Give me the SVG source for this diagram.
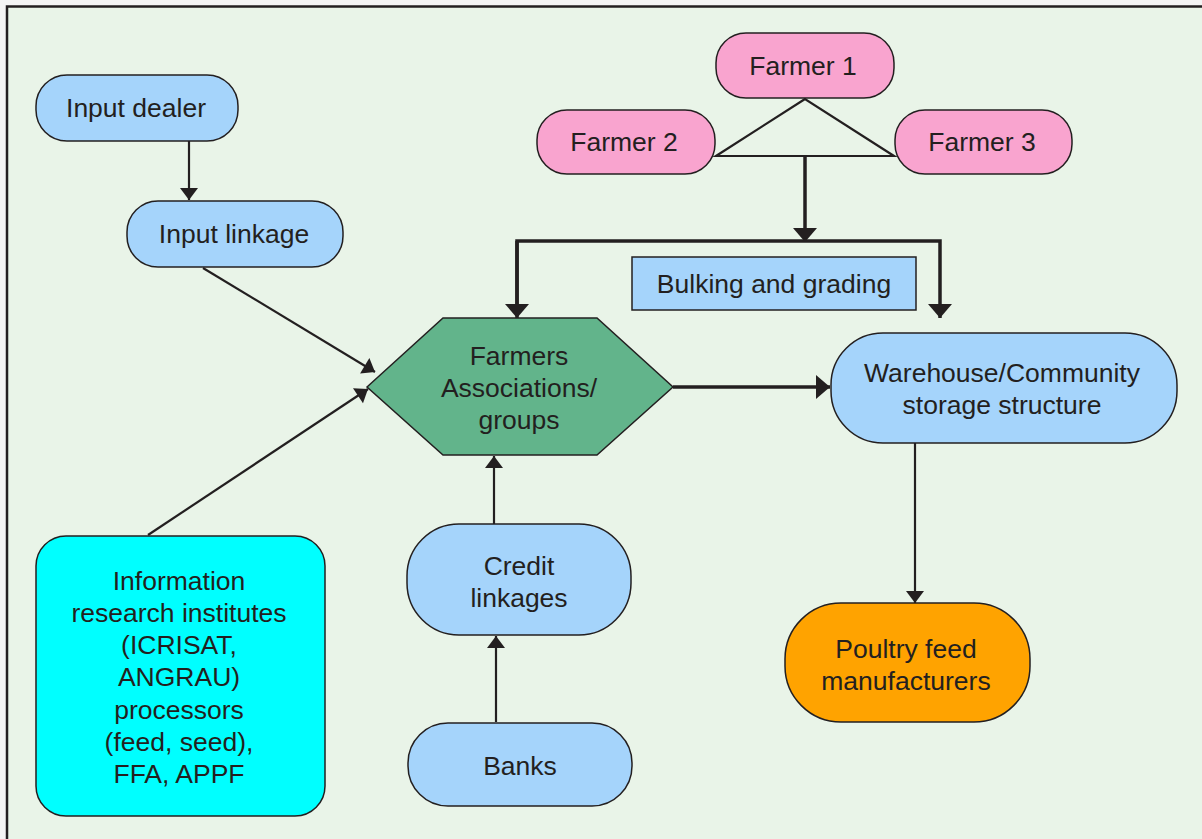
<svg xmlns="http://www.w3.org/2000/svg" width="1202" height="839" viewBox="0 0 1202 839">
<defs>
<marker id="ah" markerUnits="userSpaceOnUse" markerWidth="24" markerHeight="24" viewBox="0 0 24 24" refX="13" refY="12" orient="auto">
<path d="M1,3 L13,12 L1,21 Z" fill="#231f20"/>
</marker>
<marker id="ahb" markerUnits="userSpaceOnUse" markerWidth="28" markerHeight="28" viewBox="0 0 28 28" refX="15" refY="14" orient="auto">
<path d="M1,2 L15,14 L1,26 Z" fill="#231f20"/>
</marker>
<style>
.t{font-family:"Liberation Sans",Arial,sans-serif;font-size:26.5px;fill:#231f20;text-anchor:middle;dominant-baseline:central}
.n{stroke:#231f20;stroke-width:1.5}
.blue{fill:#a5d4fb}
.pink{fill:#f9a4cf}
.c{fill:none;stroke:#231f20;stroke-width:2.2}
.cb{fill:none;stroke:#231f20;stroke-width:3.5}
</style>
</defs>
<rect x="0" y="0" width="1202" height="839" fill="#f4f4f4"/>
<rect x="7" y="6.5" width="1210" height="850" fill="#e9f4e8" stroke="#231f20" stroke-width="2.5"/>

<g id="connectors">
<line class="c" x1="189" y1="141" x2="189" y2="200" marker-end="url(#ah)"/>
<line class="c" x1="203" y1="268" x2="375" y2="372" marker-end="url(#ah)"/>
<line class="c" x1="148" y1="535" x2="368" y2="389" marker-end="url(#ah)"/>
<line class="c" x1="494" y1="524" x2="494" y2="456" marker-end="url(#ah)"/>
<line class="c" x1="496" y1="722" x2="496" y2="636" marker-end="url(#ah)"/>
<line class="c" x1="915" y1="443" x2="915" y2="603" marker-end="url(#ah)"/>
<path class="c" d="M805,99 L716,156 L894,156 Z"/>
<line class="cb" x1="805" y1="156" x2="805" y2="242" marker-end="url(#ahb)"/>
<path class="cb" d="M517,316 L517,241 L940,241 L940,318" marker-end="url(#ahb)"/>
<path class="cb" d="M517,241 L517,318" marker-end="url(#ahb)"/>
<line class="cb" x1="673" y1="387" x2="830" y2="387" marker-end="url(#ahb)"/>
</g>

<g id="input-dealer">
<rect class="n blue" x="36" y="75" width="202" height="66" rx="31"/>
<text class="t" x="136" y="108">Input dealer</text>
</g>
<g id="input-linkage">
<rect class="n blue" x="127" y="201" width="216" height="66" rx="31"/>
<text class="t" x="234" y="234">Input linkage</text>
</g>
<g id="farmer1">
<rect class="n pink" x="716" y="33" width="178" height="65" rx="30"/>
<text class="t" x="803" y="66">Farmer 1</text>
</g>
<g id="farmer2">
<rect class="n pink" x="537" y="110" width="178" height="64" rx="30"/>
<text class="t" x="624" y="142">Farmer 2</text>
</g>
<g id="farmer3">
<rect class="n pink" x="895" y="110" width="177" height="64" rx="30"/>
<text class="t" x="982" y="142">Farmer 3</text>
</g>
<g id="bulking">
<rect class="n blue" x="632" y="257" width="284" height="53"/>
<text class="t" x="774" y="284">Bulking and grading</text>
</g>
<g id="farmers-associations">
<polygon class="n" fill="#62b48b" stroke-width="2" points="367,387 443,318 597,318 673,387 597,455 443,455"/>
<text class="t" x="519" y="356">Farmers</text>
<text class="t" x="519" y="388">Associations/</text>
<text class="t" x="519" y="420">groups</text>
</g>
<g id="warehouse">
<rect class="n blue" x="831" y="333" width="346" height="110" rx="52"/>
<text class="t" x="1002" y="373">Warehouse/Community</text>
<text class="t" x="1002" y="405">storage structure</text>
</g>
<g id="poultry">
<rect class="n" fill="#ffa300" x="785" y="603" width="245" height="119" rx="56"/>
<text class="t" x="906" y="649">Poultry feed</text>
<text class="t" x="906" y="681">manufacturers</text>
</g>
<g id="information">
<rect class="n" fill="#00ffff" x="36" y="536" width="289" height="280" rx="30"/>
<text class="t" x="179" y="581">Information</text>
<text class="t" x="179" y="613">research institutes</text>
<text class="t" x="179" y="645">(ICRISAT,</text>
<text class="t" x="179" y="677">ANGRAU)</text>
<text class="t" x="179" y="710">processors</text>
<text class="t" x="179" y="742">(feed, seed),</text>
<text class="t" x="179" y="774">FFA, APPF</text>
</g>
<g id="credit">
<rect class="n blue" x="407" y="524" width="224" height="111" rx="52"/>
<text class="t" x="519" y="566">Credit</text>
<text class="t" x="519" y="598">linkages</text>
</g>
<g id="banks">
<rect class="n blue" x="408" y="723" width="224" height="83" rx="40"/>
<text class="t" x="520" y="766">Banks</text>
</g>
</svg>
